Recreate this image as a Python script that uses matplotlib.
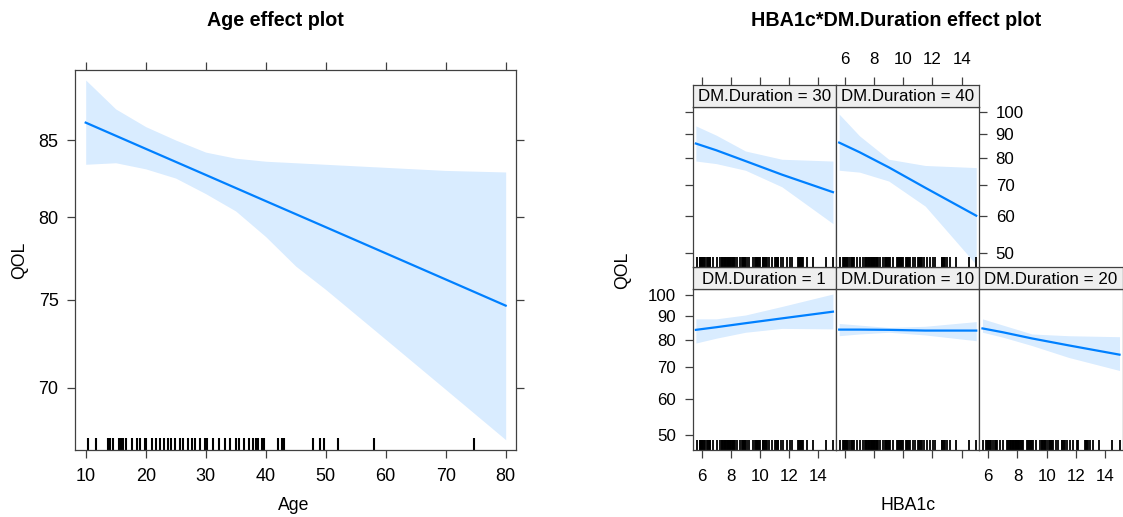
import matplotlib
matplotlib.use("Agg")
import matplotlib.pyplot as plt
from matplotlib.ticker import NullLocator, NullFormatter, FixedLocator, FixedFormatter

plt.rcParams['font.family'] = ['Liberation Sans', 'DejaVu Sans']

# ---------------- data ----------------
# Left panel: Age effect
age_grid = [10, 20, 30, 40, 50, 60, 70, 80]
age_fit = [86.17, 84.42, 82.71, 81.03, 79.39, 77.78, 76.20, 74.65]
age_band_x = [10, 15, 20, 25, 30, 35, 40, 45, 50, 60, 70, 80]
age_upper = [89.1, 87.1, 85.9, 85.0, 84.2, 83.8, 83.6, 83.5, 83.4, 83.2, 83.0, 82.9]
age_lower = [83.4, 83.5, 83.1, 82.5, 81.5, 80.4, 78.8, 77.0, 75.6, 72.7, 69.9, 67.2]
age_rug = [10.4, 11.8, 13.7, 13.9, 14.1, 14.6, 15.5, 15.7, 16.0, 16.2, 16.8, 17.7, 18.5,
           19.0, 19.9, 20.1, 21.0, 21.7, 22.4, 23.0, 23.8, 24.3, 24.9, 25.7, 26.3, 27.1,
           27.8, 28.2, 29.0, 29.9, 30.2, 31.3, 32.3, 33.2, 34.1, 35.0, 35.6, 36.4, 37.2,
           37.9, 38.4, 38.8, 39.4, 39.7, 42.1, 42.8, 43.0, 47.9, 49.0, 49.7, 52.0, 58.0, 74.8]
age_xticks = [10, 20, 30, 40, 50, 60, 70, 80]
age_yticks = [70, 75, 80, 85]

# Right panel: HBA1c * DM.Duration effect
hba_grid = [5.6, 7.0, 9.0, 11.5, 15.0]
durations = [1, 10, 20, 30, 40]
fit_d1 = [84.2, 85.3, 87.0, 89.1, 92.1]
upper_d1 = [88.9, 88.9, 90.6, 94.5, 100.5]
lower_d1 = [78.9, 80.8, 83.2, 84.8, 84.6]
fit_d10 = [84.3, 84.3, 84.2, 83.9, 83.9]
upper_d10 = [86.9, 86.2, 85.2, 85.7, 87.7]
lower_d10 = [81.8, 82.5, 83.2, 82.1, 79.8]
fit_d20 = [84.8, 83.2, 80.7, 78.0, 74.5]
upper_d20 = [88.9, 86.2, 82.5, 81.8, 81.4]
lower_d20 = [83.2, 81.2, 77.9, 73.5, 68.9]
fit_d30 = [85.8, 83.0, 78.7, 73.6, 67.5]
upper_d30 = [93.6, 89.4, 82.7, 79.4, 78.7]
lower_d30 = [78.7, 77.7, 75.2, 69.3, 57.8]
fit_d40 = [86.2, 82.2, 76.3, 69.0, 60.1]
upper_d40 = [99.2, 89.1, 79.4, 77.0, 76.2]
lower_d40 = [75.2, 74.5, 71.3, 63.0, 47.2]
hba_rug = [5.66, 5.85, 5.9, 5.95, 6.0, 6.05, 6.1, 6.15, 6.2, 6.34, 6.45, 6.5, 6.55, 6.6,
           6.8, 7.03, 7.25, 7.37, 7.42, 7.47, 7.52, 7.57, 7.62, 7.67, 7.72, 7.77, 7.82,
           7.87, 7.92, 7.97, 8.02, 8.07, 8.12, 8.17, 8.22, 8.28, 8.4, 8.63, 8.74, 8.8,
           8.84, 8.9, 8.94, 9.0, 9.09, 9.27, 9.54, 9.66, 9.71, 9.76, 9.81, 9.86, 9.92,
           10.0, 10.18, 10.23, 10.28, 10.33, 10.38, 10.46, 10.64, 10.8, 11.03, 11.08,
           11.13, 11.2, 11.26, 11.42, 11.6, 11.83, 12.06, 12.17, 12.63, 12.68, 12.73,
           12.8, 12.86, 12.97, 13.2, 13.6, 14.5, 15.0]
hba_xticks = [6, 8, 10, 12, 14]
qol_yticks = [50, 60, 70, 80, 90, 100]

# ---------------- style ----------------
W, H = 1123, 517
LINE = '#0080ff'
BAND = '#0080ff'
FRAME = '#404040'

fig = plt.figure(figsize=(W / 100, H / 100), dpi=100)


def rect(l, t, r, b):
    return [l / W, 1 - b / H, (r - l) / W, (b - t) / H]


def frame(ax):
    for s in ax.spines.values():
        s.set_color(FRAME)
        s.set_linewidth(0.9)
    ax.tick_params(which='both', color=FRAME, width=0.9, length=5.8, direction='out')


# ---------------- left panel ----------------
ax = fig.add_axes(rect(75, 70, 516, 450))
frame(ax)
ax.set_yscale('log')
ax.set_xlim(8.217, 81.72)
ax.set_ylim(66.66, 89.8)
ax.fill_between(age_band_x, age_lower, age_upper, color=BAND, alpha=0.15, lw=0)
ax.plot(age_grid, age_fit, color=LINE, lw=1.6)
ax.vlines(age_rug, 0, 12 / 380, transform=ax.get_xaxis_transform(), color='black', lw=1.5)
ax.yaxis.set_minor_locator(NullLocator())
ax.yaxis.set_minor_formatter(NullFormatter())
ax.yaxis.set_major_locator(FixedLocator(age_yticks))
ax.yaxis.set_major_formatter(FixedFormatter([str(v) for v in age_yticks]))
ax.set_xticks(age_xticks)
ax.set_xticklabels([str(v) for v in age_xticks])
ax.tick_params(top=True, right=True, labeltop=False, labelright=False, labelsize=13, pad=6)
ax.tick_params(axis='x', pad=7)
fig.text(275 / W, 1 - 21 / H, 'Age effect plot', ha='center', va='center',
         fontsize=14.2, fontweight='bold')
fig.text(20 / W, 1 - 260 / H, 'QOL', ha='center', va='center', rotation=90, fontsize=12.7)
fig.text(294 / W, 1 - 506 / H, 'Age', ha='center', va='center', fontsize=12.7)

# ---------------- right panels ----------------
col_l = [692.7, 836.0, 979.3]
cw = 143.3
rows = {
    'bottom': dict(pt=289.0, pb=449.5, st=267.0),
    'top': dict(pt=106.5, pb=267.0, st=84.5),
}
panel_data = {
    1: (fit_d1, upper_d1, lower_d1, 'bottom', 0),
    10: (fit_d10, upper_d10, lower_d10, 'bottom', 1),
    20: (fit_d20, upper_d20, lower_d20, 'bottom', 2),
    30: (fit_d30, upper_d30, lower_d30, 'top', 0),
    40: (fit_d40, upper_d40, lower_d40, 'top', 1),
}
XL = (5.383, 15.21)
YL = (46.66, 103.0)

for d in durations:
    fit, up, lo, row, col = panel_data[d]
    r = rows[row]
    l = col_l[col]
    pax = fig.add_axes(rect(l, r['pt'], l + cw, r['pb']))
    frame(pax)
    pax.set_yscale('log')
    pax.set_xlim(*XL)
    pax.set_ylim(*YL)
    pax.fill_between(hba_grid, lo, up, color=BAND, alpha=0.15, lw=0)
    pax.plot(hba_grid, fit, color=LINE, lw=1.6)
    pax.vlines(hba_rug, 0, 10 / 160.5, transform=pax.get_xaxis_transform(),
               color='black', lw=1.3)
    pax.yaxis.set_minor_locator(NullLocator())
    pax.yaxis.set_minor_formatter(NullFormatter())
    pax.yaxis.set_major_locator(FixedLocator(qol_yticks))
    pax.yaxis.set_major_formatter(FixedFormatter([str(v) for v in qol_yticks]))
    pax.set_xticks(hba_xticks)
    pax.set_xticklabels([str(v) for v in hba_xticks])

    left_ticks = col == 0
    right_ticks = (row == 'top' and col == 1) or (row == 'bottom' and col == 2)
    pax.tick_params(axis='y', left=left_ticks, right=right_ticks,
                    labelleft=(left_ticks and row == 'bottom'),
                    labelright=(row == 'top' and col == 1),
                    labelsize=12.2, pad=6)
    if row == 'bottom':
        pax.tick_params(axis='x', bottom=True, top=False,
                        labelbottom=(col != 1), labeltop=False, labelsize=12.2, pad=8)
    else:
        pax.tick_params(axis='x', bottom=False, top=False,
                        labelbottom=False, labeltop=False)

    # strip
    sax = fig.add_axes(rect(l, r['st'], l + cw, r['pt']))
    frame(sax)
    sax.set_facecolor('#EFEFEF')
    sax.set_xlim(*XL)
    sax.set_yticks([])
    sax.set_xticks(hba_xticks)
    sax.set_xticklabels([str(v) for v in hba_xticks])
    if row == 'top':
        sax.tick_params(axis='x', bottom=False, top=True, labelbottom=False,
                        labeltop=(col == 1), labelsize=12.2, pad=7)
    else:
        sax.tick_params(axis='x', bottom=False, top=False, labelbottom=False, labeltop=False)
    sax.text(0.5, 0.45, f'DM.Duration = {d}', ha='center', va='center',
             fontsize=12.2, transform=sax.transAxes)

fig.text(896 / W, 1 - 20 / H, 'HBA1c*DM.Duration effect plot', ha='center', va='center',
         fontsize=14.2, fontweight='bold')
fig.text(623 / W, 1 - 270 / H, 'QOL', ha='center', va='center', rotation=90, fontsize=12.7)
fig.text(908 / W, 1 - 506 / H, 'HBA1c', ha='center', va='center', fontsize=12.7)

fig.savefig('out.png', dpi=100)
